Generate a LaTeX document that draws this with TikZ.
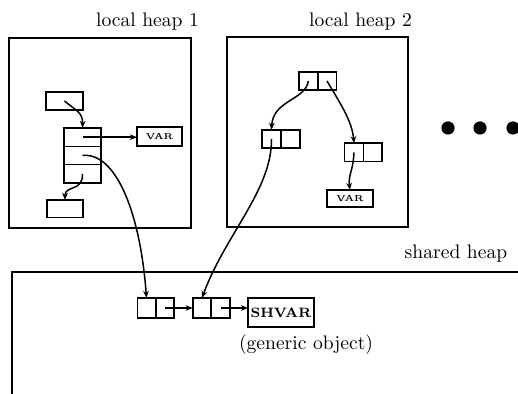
\documentclass[tikz,border=0pt]{standalone}
\usetikzlibrary{arrows.meta,calc}
\begin{document}
\begin{tikzpicture}[x=0.5pt,y=-0.5pt,
  frame/.style={draw, line width=0.7pt, inner sep=0pt, outer sep=0pt},
  box/.style={draw, line width=0.8pt, inner sep=0pt, outer sep=0pt},
  half/.style={box, minimum width=9.4pt, minimum height=9.2pt},
  shalf/.style={box, minimum width=9.2pt, minimum height=10pt},
  arr/.style={line width=0.75pt, -{Stealth[length=3.6pt,width=2.8pt]}},
  lbl/.style={inner sep=0pt, font=\fontsize{9.8}{12}\selectfont},
  varfont/.style={font=\fontsize{4.3}{5}\selectfont\bfseries},
  dot/.style={circle, fill=black, inner sep=0pt, minimum size=6.6pt}
]
\useasboundingbox (0,0) rectangle (518,394);

% labels
\node[lbl] (l1) at (147.5,22) {local heap 1};
\node[lbl] (l2) at (360.5,22) {local heap 2};
\node[lbl] (ls) at (456,254) {shared heap};
\node[lbl] (lg) at (306,345) {(generic object)};

% frames
\node[frame, minimum width=91pt, minimum height=95pt] (f1) at (100,133) {};
\node[frame, minimum width=90.5pt, minimum height=95pt] (f2) at (317.5,132) {};
\draw[line width=0.9pt] (12,394) -- (12,272) -- (518,272);

% local heap 1
\node[box, minimum width=18.5pt, minimum height=9pt] (h1top) at (64.5,101) {};
\node[box, minimum width=18.5pt, minimum height=9.17pt] (c1) at (82.5,137.2) {};
\node[box, minimum width=18.5pt, minimum height=9.17pt] (c2) at (82.5,155.5) {};
\node[box, minimum width=18.5pt, minimum height=9.17pt] (c3) at (82.5,173.8) {};
\node[box, minimum width=22.5pt, minimum height=9.5pt, varfont] (v1) at (159.5,136.8) {VAR};
\node[box, minimum width=18pt, minimum height=8.75pt] (h1bot) at (65,208.75) {};

% local heap 2
\node[half] (t2l) at (308.3,81) {};
\node[half] (t2r) at (327,81) {};
\node[half] (l2l) at (271.5,139) {};
\node[half] (l2r) at (290.3,139) {};
\node[half] (r2l) at (354,152.5) {};
\node[half] (r2r) at (372.8,152.5) {};
\node[box, minimum width=23pt, minimum height=8.5pt, varfont] (v2) at (350,198.5) {VAR};

% dots
\node[dot] (d1) at (448,128) {};
\node[dot] (d2) at (480,128) {};
\node[dot] (d3) at (513,128) {};

% shared heap
\node[shalf] (s1l) at (146.5,308) {};
\node[shalf] (s1r) at (165,308) {};
\node[shalf] (s2l) at (202,308) {};
\node[shalf] (s2r) at (220.5,308) {};
\node[box, minimum width=33pt, minimum height=14.5pt, anchor=north, font=\fontsize{6.8}{8}\selectfont\bfseries] (shv) at (281,298) {SHVAR};

% connectors heap 1
\draw[arr] (h1top.center) .. controls (75,110) and (83,112) .. (c1.north);
\draw[arr] (c1.center) -- (c1.center -| v1.west);
\draw[arr] (c2.center) .. controls (115,152) and (140,210) .. (s1l.north);
\draw[arr] (c3.center) .. controls (83,192) and (65,185) .. (h1bot.north);

% connectors heap 2
\draw[arr] (t2l.center) .. controls (306,100) and (273,100) .. (l2l.north);
\draw[arr] (t2r.center) .. controls (338,100) and (352,120) .. (r2l.north);
\draw[arr] (r2l.center) .. controls (353,172) and (348,175) .. (v2.north);
\draw[arr] (l2l.center) .. controls (272,190) and (225,235) .. (s2l.north);

% shared chain
\draw[arr] (s1r.center) -- (s2l.west);
\draw[arr] (s2r.center) -- (s2r.center -| shv.west);
\end{tikzpicture}
\end{document}
